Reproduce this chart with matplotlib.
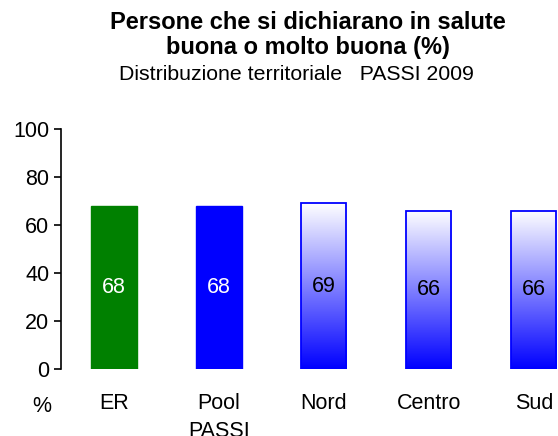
import matplotlib.pyplot as plt
import numpy as np
from matplotlib.patches import Rectangle

plt.rcParams['font.family'] = ['Liberation Sans', 'DejaVu Sans']

categorie = ['ER', 'Pool\nPASSI', 'Nord', 'Centro', 'Sud']
valori = [68, 68, 69, 66, 66]
tipo = ['pieno_verde', 'pieno_blu', 'sfumato', 'sfumato', 'sfumato']

fig = plt.figure(figsize=(5.58, 4.36), dpi=100)
ax = fig.add_axes([61 / 558, (436 - 369) / 436, (558 - 61) / 558, 240 / 436])

x = np.arange(len(categorie))
larg = 0.43

# gradiente bianco -> blu dall'alto verso il basso
grad = np.linspace(1, 0, 256).reshape(-1, 1)
cmap_sf = plt.matplotlib.colors.LinearSegmentedColormap.from_list('sf', ['#0000ff', '#8080ff', '#ffffff'])

for xi, v, t in zip(x, valori, tipo):
    if t == 'pieno_verde':
        ax.bar(xi, v, width=larg, color='#008000', edgecolor='#008000', zorder=2)
        ax.text(xi, v / 2, str(v), ha='center', va='center', color='white', fontsize=15.5)
    elif t == 'pieno_blu':
        ax.bar(xi, v, width=larg, color='#0000ff', edgecolor='#0000ff', zorder=2)
        ax.text(xi, v / 2, str(v), ha='center', va='center', color='white', fontsize=15.5)
    else:
        im = ax.imshow(grad, cmap=cmap_sf, vmin=0, vmax=1, aspect='auto',
                       extent=(xi - larg / 2, xi + larg / 2, 0, v), zorder=2)
        rett = Rectangle((xi - larg / 2, 0), larg, v, facecolor='none',
                         edgecolor='#0000ff', linewidth=1.3, zorder=3)
        ax.add_patch(rett)
        ax.text(xi, v / 2, str(v), ha='center', va='center', color='black', fontsize=15.5, zorder=4)

ax.set_xlim(-0.505, 4.23)
ax.set_ylim(0, 100)
ax.set_yticks([0, 20, 40, 60, 80, 100])
ax.set_xticks(x)
ax.set_xticklabels(categorie, fontsize=15.5, linespacing=1.45)
ax.tick_params(axis='x', length=0, pad=17)
ax.tick_params(axis='y', labelsize=15.5, length=5, width=1.2, direction='out')
for s in ['top', 'right', 'bottom']:
    ax.spines[s].set_visible(False)
ax.spines['left'].set_linewidth(1.2)

fig.text(42 / 558, 1 - 406 / 436, '%', ha='center', va='center', fontsize=15.5)
fig.text(308 / 558, 1 - 35 / 436, 'Persone che si dichiarano in salute\nbuona o molto buona (%)',
         ha='center', va='center', fontsize=17, fontweight='bold', linespacing=1.1)
fig.text(296 / 558, 1 - 74 / 436, 'Distribuzione territoriale   PASSI 2009',
         ha='center', va='center', fontsize=15.3)

fig.savefig('out.png', dpi=100)
